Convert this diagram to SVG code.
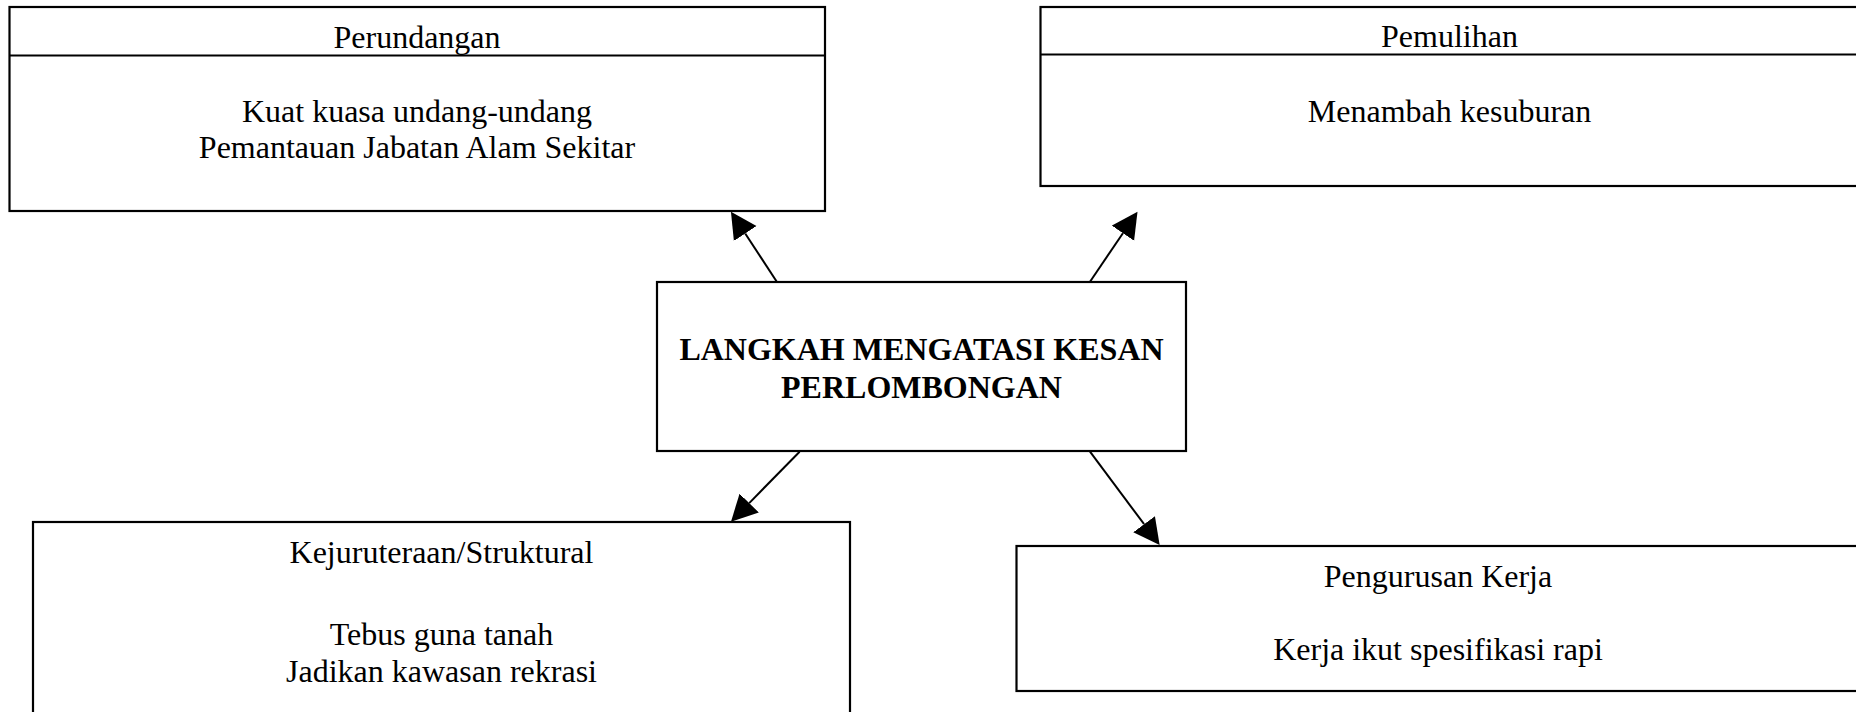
<svg xmlns="http://www.w3.org/2000/svg" width="1856" height="712" viewBox="0 0 1856 712">
<style>
.box{fill:#fff;stroke:#000;stroke-width:2.2}
.div{stroke:#000;stroke-width:2.2}
.t{font-family:"Liberation Serif","Times New Roman",serif;font-size:32px;fill:#000;text-anchor:middle}
.b{font-weight:bold}
.conn{stroke:#000;stroke-width:2;fill:none}
</style>
<defs>
<marker id="ah" markerUnits="userSpaceOnUse" markerWidth="27" markerHeight="28" viewBox="0 0 27 28" refX="0" refY="14" orient="auto">
<path d="M0,0.5 L26,14 L0,27.5 z" fill="#000"/>
</marker>
</defs>
<rect width="1856" height="712" fill="#fff"/>
<g id="connectors">
<line class="conn" x1="776.8" y1="281.7" x2="745.2" y2="233.5" marker-end="url(#ah)"/>
<line class="conn" x1="1090" y1="281.7" x2="1122.9" y2="233.2" marker-end="url(#ah)"/>
<line class="conn" x1="799.6" y1="451.7" x2="749.2" y2="503.1" marker-end="url(#ah)"/>
<line class="conn" x1="1090" y1="451.7" x2="1144.1" y2="524.2" marker-end="url(#ah)"/>
</g>
<g id="perundangan">
<rect class="box" x="9.5" y="7" width="815.5" height="204"/>
<line class="div" x1="9.5" y1="55.5" x2="825" y2="55.5"/>
<text class="t" x="417" y="48">Perundangan</text>
<text class="t" x="417" y="121.5">Kuat kuasa undang-undang</text>
<text class="t" x="417" y="158">Pemantauan Jabatan Alam Sekitar</text>
</g>
<g id="pemulihan">
<rect class="box" x="1040.5" y="7" width="818" height="179"/>
<line class="div" x1="1040.5" y1="54.5" x2="1858.5" y2="54.5"/>
<text class="t" x="1449.5" y="47">Pemulihan</text>
<text class="t" x="1449.5" y="122">Menambah kesuburan</text>
</g>
<g id="central">
<rect class="box" x="657" y="282" width="529" height="169"/>
<text class="t b" x="921.5" y="360">LANGKAH MENGATASI KESAN</text>
<text class="t b" x="921.5" y="398">PERLOMBONGAN</text>
</g>
<g id="kejuruteraan">
<rect class="box" x="33" y="522" width="817" height="200"/>
<text class="t" x="441.5" y="563">Kejuruteraan/Struktural</text>
<text class="t" x="441.5" y="645">Tebus guna tanah</text>
<text class="t" x="441.5" y="682">Jadikan kawasan rekrasi</text>
</g>
<g id="pengurusan">
<rect class="box" x="1016.5" y="546" width="843" height="145"/>
<text class="t" x="1438" y="587">Pengurusan Kerja</text>
<text class="t" x="1438" y="660">Kerja ikut spesifikasi rapi</text>
</g>
</svg>
